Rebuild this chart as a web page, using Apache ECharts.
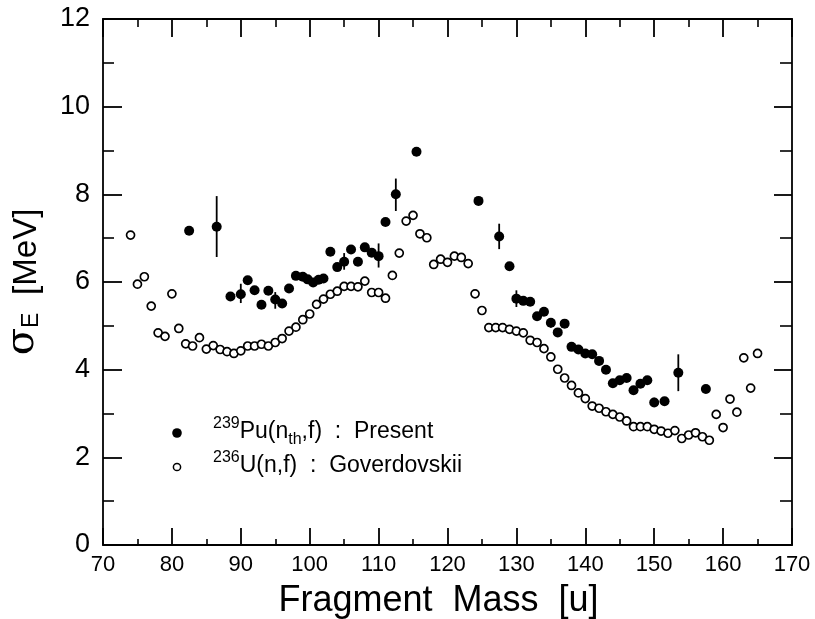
<!DOCTYPE html>
<html>
<head>
<meta charset="utf-8">
<script src="https://cdn.jsdelivr.net/npm/echarts@6/dist/echarts.min.js"></script>
<style>
html,body{margin:0;padding:0;background:#fff;}
#chart{width:815px;height:619px;}
</style>
</head>
<body>
<div id="chart"></div>
<script>
// Goverdovskii 236U(n,f) — open circles
var openMass = [74,75,76,77,78,79,80,81,82,83,84,85,86,87,88,89,90,91,92,93,94,95,96,97,98,99,100,101,102,103,104,105,106,107,108,109,110,111,112,113,114,115,116,117,118,119,120,121,122,123,124,125,126,127,128,129,130,131,132,133,134,135,136,137,138,139,140,141,142,143,144,145,146,147,148,149,150,151,152,153,154,155,156,157,158,159,160,161,162,163,164,165];
var openSigma = [7.07,5.95,6.12,5.45,4.84,4.76,5.73,4.94,4.59,4.54,4.73,4.47,4.55,4.46,4.41,4.37,4.43,4.54,4.54,4.58,4.54,4.62,4.71,4.88,4.97,5.14,5.27,5.49,5.61,5.72,5.79,5.90,5.90,5.89,6.02,5.76,5.76,5.63,6.15,6.66,7.39,7.52,7.10,7.01,6.40,6.52,6.45,6.59,6.56,6.42,5.73,5.35,4.96,4.96,4.96,4.92,4.88,4.84,4.67,4.62,4.48,4.29,4.01,3.81,3.64,3.47,3.34,3.17,3.12,3.04,2.98,2.92,2.83,2.70,2.70,2.70,2.64,2.60,2.55,2.61,2.43,2.51,2.56,2.47,2.39,2.98,2.68,3.33,3.03,4.27,3.58,4.37];

// 239Pu(nth,f) present — filled circles
var puMass = [82.5,86.5,88.5,90,91,92,93,94,95,96,97,98,99,99.7,100.5,101.3,102,103,104,105,106,107,108,109,110,111,112.5,115.5,124.5,127.5,129,130,131,132,133,134,135,136,137,138,139,140,141,142,143,144,145,146,147,148,149,150,151.5,153.5,157.5];
var puSigma = [7.17,7.26,5.67,5.72,6.04,5.81,5.48,5.80,5.60,5.51,5.85,6.14,6.12,6.06,5.99,6.05,6.08,6.69,6.34,6.46,6.74,6.46,6.79,6.67,6.59,7.37,8.00,8.97,7.85,7.04,6.36,5.62,5.57,5.55,5.22,5.32,5.07,4.85,5.05,4.52,4.46,4.37,4.35,4.20,4.00,3.69,3.76,3.81,3.53,3.68,3.76,3.25,3.28,3.93,3.56];

// error bars on selected Pu points
var errMass = [86.5,90,95,105,110,112.5,127.5,130,135,150,153.5];
var errLow  = [6.57,5.52,5.39,6.28,6.33,7.62,6.75,5.43,4.96,3.15,3.51];
var errHigh = [7.96,5.96,5.77,6.66,6.88,8.36,7.33,5.81,5.17,3.36,4.35];

// axis ticks
var xMin = 70, xMax = 170, xStep = 10;
var yMin = 0, yMax = 12, yStep = 2;

var FONT = '"Liberation Sans", Arial, Helvetica, sans-serif';

var openData = openMass.map(function(m, i){ return [m, openSigma[i]]; });
var puData = puMass.map(function(m, i){ return [m, puSigma[i]]; });
var errData = errMass.map(function(m, i){ return [m, errLow[i], errHigh[i]]; });

var chart = echarts.init(document.getElementById('chart'), null, {renderer: 'canvas'});

function axisCommon(extra){
  var base = {
    type: 'value',
    axisLine: {show: true, onZero: false, lineStyle: {color: '#000', width: 1.8}},
    axisTick: {show: true, inside: true, length: 18, lineStyle: {color: '#000', width: 1.8}},
    minorTick: {show: true, splitNumber: 2, length: 9, lineStyle: {color: '#000', width: 1.6}},
    splitLine: {show: false},
    minorSplitLine: {show: false}
  };
  for (var k in extra) base[k] = extra[k];
  return base;
}

var option = {
  backgroundColor: '#fff',
  animation: false,
  grid: {left: 103, right: 23, top: 19, bottom: 74, containLabel: false, outerBoundsMode: 'none'},
  xAxis: [
    axisCommon({
      position: 'bottom', min: xMin, max: xMax, interval: xStep,
      axisTick: {show: true, inside: true, length: 17, lineStyle: {color: '#000', width: 1.8}},
      minorTick: {show: true, splitNumber: 2, length: 6, lineStyle: {color: '#000', width: 1.6}},
      axisLabel: {show: true, margin: 9, color: '#000', fontSize: 22, fontFamily: FONT},
      name: 'Fragment  Mass  [u]', nameLocation: 'middle', nameGap: 38,
      nameTextStyle: {color: '#000', fontSize: 36, fontFamily: FONT, padding: [0, 18, 0, 0]}
    }),
    axisCommon({
      position: 'top', min: xMin, max: xMax, interval: xStep,
      axisLabel: {show: false},
      minorTick: {show: true, splitNumber: 2, length: 8, lineStyle: {color: '#000', width: 1.6}}
    })
  ],
  yAxis: [
    axisCommon({
      position: 'left', min: yMin, max: yMax, interval: yStep,
      axisTick: {show: true, inside: true, length: 19, lineStyle: {color: '#000', width: 1.8}},
      minorTick: {show: true, splitNumber: 2, length: 11, lineStyle: {color: '#000', width: 1.6}},
      axisLabel: {show: true, margin: 13, color: '#000', fontSize: 27, fontFamily: FONT},
      name: '{s|σ}{sub|E}  {n|[MeV]}', nameLocation: 'middle', nameGap: 60, nameRotate: 90,
      nameTextStyle: {
        color: '#000', fontFamily: FONT, fontSize: 32,
        rich: {
          s: {fontSize: 40, fontFamily: '"DejaVu Serif", serif', color: '#000', verticalAlign: 'bottom', lineHeight: 44},
          sub: {fontSize: 23, fontFamily: FONT, color: '#000', verticalAlign: 'bottom', lineHeight: 34},
          n: {fontSize: 33, fontFamily: FONT, color: '#000', verticalAlign: 'bottom', lineHeight: 44}
        }
      }
    }),
    axisCommon({
      position: 'right', min: yMin, max: yMax, interval: yStep,
      axisLabel: {show: false},
      minorTick: {show: true, splitNumber: 2, length: 12, lineStyle: {color: '#000', width: 1.6}}
    })
  ],
  series: [
    {
      name: 'Goverdovskii', type: 'scatter', xAxisIndex: 0, yAxisIndex: 0,
      data: openData, symbol: 'circle', symbolSize: 8,
      itemStyle: {color: '#fff', borderColor: '#000', borderWidth: 1.7, opacity: 1},
      z: 3
    },
    {
      name: 'errors', type: 'custom', xAxisIndex: 0, yAxisIndex: 0,
      data: errData,
      renderItem: function(params, api){
        var p1 = api.coord([api.value(0), api.value(1)]);
        var p2 = api.coord([api.value(0), api.value(2)]);
        return {type: 'line', shape: {x1: p1[0], y1: p1[1], x2: p2[0], y2: p2[1]},
                style: {stroke: '#000', lineWidth: 1.8}};
      },
      z: 4
    },
    {
      name: 'Present', type: 'scatter', xAxisIndex: 0, yAxisIndex: 0,
      data: puData, symbol: 'circle', symbolSize: 10,
      itemStyle: {color: '#000', borderColor: '#000', borderWidth: 0, opacity: 1},
      z: 5
    }
  ],
  graphic: [
    {type: 'circle', shape: {cx: 177, cy: 433, r: 4.8}, style: {fill: '#000'}},
    {type: 'circle', shape: {cx: 177, cy: 467, r: 3.6}, style: {fill: '#fff', stroke: '#000', lineWidth: 1.5}},
    {
      type: 'text', left: 213, top: 416,
      style: {
        text: '{sup|239}{m|Pu(n}{sb|th}{m|,f)  :  Present}',
        fill: '#000', font: '23px ' + FONT,
        rich: {
          sup: {fontSize: 16, fontFamily: FONT, fill: '#000', verticalAlign: 'top', lineHeight: 32},
          m: {fontSize: 23, fontFamily: FONT, fill: '#000', verticalAlign: 'middle', lineHeight: 32},
          sb: {fontSize: 16, fontFamily: FONT, fill: '#000', verticalAlign: 'bottom', lineHeight: 32}
        }
      }
    },
    {
      type: 'text', left: 213, top: 450,
      style: {
        text: '{sup|236}{m|U(n,f)  :  Goverdovskii}',
        fill: '#000', font: '23px ' + FONT,
        rich: {
          sup: {fontSize: 16, fontFamily: FONT, fill: '#000', verticalAlign: 'top', lineHeight: 32},
          m: {fontSize: 23, fontFamily: FONT, fill: '#000', verticalAlign: 'middle', lineHeight: 32}
        }
      }
    }
  ]
};

chart.setOption(option);
</script>
</body>
</html>
